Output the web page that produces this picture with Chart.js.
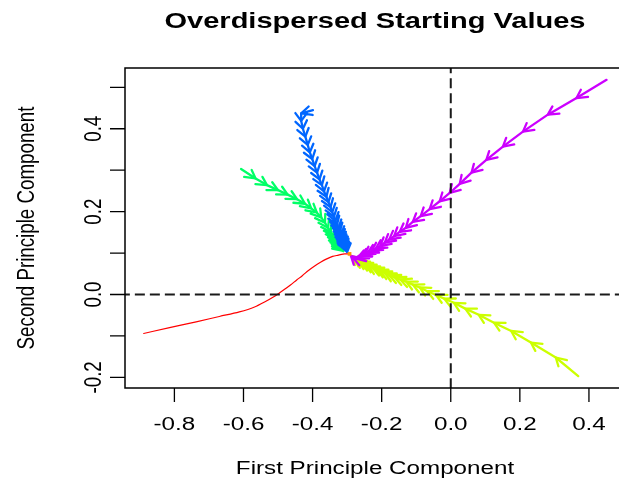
<!DOCTYPE html>
<html>
<head>
<meta charset="utf-8">
<title>Overdispersed Starting Values</title>
<script src="https://cdn.jsdelivr.net/npm/chart.js@4"></script>
<style>
  body { margin: 0; background: #fff; }
  canvas { display: block; }
</style>
</head>
<body>
<canvas id="chart" width="619" height="482"></canvas>
<script>
'use strict'

// trajectories, [first PC, second PC], start -> end
const redPath = [
  [-0.889, -0.094], [-0.814, -0.080], [-0.737, -0.066], [-0.670, -0.053],
  [-0.612, -0.042], [-0.568, -0.030], [-0.539, -0.018], [-0.516, -0.007],
  [-0.499, 0.002], [-0.481, 0.0125], [-0.464, 0.023], [-0.446, 0.035],
  [-0.429, 0.046], [-0.412, 0.058], [-0.394, 0.069], [-0.377, 0.078],
  [-0.359, 0.086], [-0.342, 0.092], [-0.325, 0.095], [-0.307, 0.098],
  [-0.293, 0.098]
]
const yellowPath = [
  [0.369, -0.197], [0.304, -0.152], [0.232, -0.116], [0.175, -0.088],
  [0.125, -0.068], [0.081, -0.049], [0.042, -0.034], [0.009, -0.020],
  [-0.019, -0.010], [-0.043, -0.001], [-0.068, 0.008], [-0.090, 0.017],
  [-0.110, 0.024], [-0.129, 0.031], [-0.146, 0.036], [-0.162, 0.041],
  [-0.177, 0.046], [-0.190, 0.051], [-0.203, 0.056], [-0.214, 0.060],
  [-0.226, 0.064], [-0.238, 0.069], [-0.248, 0.073], [-0.258, 0.077],
  [-0.267, 0.081], [-0.274, 0.085], [-0.280, 0.088], [-0.286, 0.092]
]
const greenPath = [
  [-0.607, 0.303], [-0.565, 0.280], [-0.532, 0.264], [-0.500, 0.252],
  [-0.472, 0.241], [-0.445, 0.230], [-0.422, 0.219], [-0.404, 0.208],
  [-0.388, 0.198], [-0.375, 0.186], [-0.364, 0.173], [-0.355, 0.161],
  [-0.347, 0.151], [-0.340, 0.141], [-0.334, 0.133], [-0.329, 0.125],
  [-0.324, 0.119], [-0.320, 0.114], [-0.317, 0.110], [-0.314, 0.107],
  [-0.311, 0.105]
]
const bluePath = [
  [-0.399, 0.445], [-0.433, 0.437], [-0.433, 0.419], [-0.428, 0.400],
  [-0.421, 0.381], [-0.414, 0.361], [-0.408, 0.343], [-0.401, 0.327],
  [-0.394, 0.310], [-0.387, 0.294], [-0.380, 0.278], [-0.373, 0.264],
  [-0.367, 0.249], [-0.360, 0.236], [-0.354, 0.223], [-0.348, 0.211],
  [-0.343, 0.199], [-0.338, 0.188], [-0.334, 0.178], [-0.329, 0.169],
  [-0.325, 0.160], [-0.321, 0.152], [-0.318, 0.144], [-0.315, 0.137],
  [-0.312, 0.130], [-0.309, 0.124], [-0.307, 0.119], [-0.305, 0.114],
  [-0.303, 0.110], [-0.301, 0.106], [-0.300, 0.103]
]
const magentaPath = [
  [0.451, 0.518], [0.364, 0.474], [0.281, 0.434], [0.209, 0.393],
  [0.151, 0.357], [0.103, 0.325], [0.060, 0.294], [0.026, 0.267],
  [-0.003, 0.245], [-0.032, 0.225], [-0.061, 0.206], [-0.087, 0.189],
  [-0.110, 0.175], [-0.130, 0.161], [-0.148, 0.151], [-0.164, 0.141],
  [-0.178, 0.133], [-0.191, 0.125], [-0.204, 0.117], [-0.217, 0.111],
  [-0.229, 0.105], [-0.241, 0.100], [-0.251, 0.095], [-0.261, 0.091],
  [-0.270, 0.088], [-0.277, 0.087], [-0.283, 0.089], [-0.289, 0.093]
]
const centrePoint = [[-0.293, 0.098]]

const xTicks = [-0.8, -0.6, -0.4, -0.2, 0.0, 0.2, 0.4]
const xTickLabels = ['-0.8', '-0.6', '-0.4', '-0.2', '0.0', '0.2', '0.4']
const yTicks = [-0.2, -0.1, 0.0, 0.1, 0.2, 0.3, 0.4, 0.5]
const yTickLabels = ['-0.2', '', '0.0', '', '0.2', '', '0.4', '']

const titleText = 'Overdispersed Starting Values'
const xTitle = 'First Principle Component'
const yTitle = 'Second Principle Component'

// the original picture is stretched sideways, so text and arrow heads are too
const FONT = '"Liberation Sans", Arial, Helvetica, sans-serif'
const STRETCH = 1.29

const toPoints = path => path.map(p => ({ x: p[0], y: p[1] }))

function trail(path, colour, width, arrows, smooth) {
  return {
    data: toPoints(path),
    showLine: true,
    borderColor: colour,
    borderWidth: width,
    borderCapStyle: 'round',
    borderJoinStyle: 'round',
    cubicInterpolationMode: smooth ? 'monotone' : 'default',
    pointRadius: 0,
    pointHoverRadius: 0,
    arrowHeads: arrows
  }
}

function refLine(points) {
  return {
    data: toPoints(points),
    showLine: true,
    borderColor: '#1a1a1a',
    borderWidth: 2,
    borderDash: [10, 5],
    pointRadius: 0,
    pointHoverRadius: 0
  }
}

// first dataset ends up on top
const datasets = [
  refLine([[-2, 0], [2, 0]]),
  refLine([[0, -2], [0, 2]]),
  {
    data: toPoints(centrePoint),
    pointStyle: 'rect',
    pointRadius: 2.6,
    pointHoverRadius: 2.6,
    backgroundColor: '#FF9500',
    borderWidth: 0
  },
  trail(magentaPath, '#CC00FF', 2.3, true, false),
  trail(bluePath, '#0066FF', 2.3, true, false),
  trail(greenPath, '#00FF66', 2.3, true, false),
  trail(yellowPath, '#CCFF00', 2.3, true, false),
  trail(redPath, '#FF0000', 1.2, false, true)
]

// open arrow heads at the end of every step, like R's arrows()
const arrowHeads = {
  id: 'arrowHeads',
  afterDatasetDraw(chart, args) {
    const ds = chart.data.datasets[args.index]
    if (!ds.arrowHeads) return
    const pts = args.meta.data
    const ctx = chart.ctx
    const len = 9
    const spread = Math.PI / 6
    ctx.save()
    ctx.strokeStyle = ds.borderColor
    ctx.lineWidth = ds.borderWidth
    ctx.lineCap = 'round'
    ctx.lineJoin = 'round'
    ctx.beginPath()
    for (let i = 1; i < pts.length; i++) {
      const a = pts[i - 1]
      const b = pts[i]
      const ang = Math.atan2(b.y - a.y, (b.x - a.x) / STRETCH)
      ctx.moveTo(b.x - len * Math.cos(ang - spread) * STRETCH, b.y - len * Math.sin(ang - spread))
      ctx.lineTo(b.x, b.y)
      ctx.lineTo(b.x - len * Math.cos(ang + spread) * STRETCH, b.y - len * Math.sin(ang + spread))
    }
    ctx.stroke()
    ctx.restore()
  }
}

function stretchedText(ctx, text, x, y, font, rotate) {
  ctx.save()
  ctx.translate(x, y)
  ctx.scale(STRETCH, 1)
  if (rotate) ctx.rotate(-Math.PI / 2)
  ctx.font = font
  ctx.textAlign = 'center'
  ctx.textBaseline = 'alphabetic'
  ctx.fillStyle = '#000'
  ctx.fillText(text, 0, 0)
  ctx.restore()
}

// base-graphics style box, ticks and labels
const rFrame = {
  id: 'rFrame',
  afterDraw(chart) {
    const { ctx, chartArea: a, scales: { x, y } } = chart
    ctx.save()
    ctx.strokeStyle = '#000'
    ctx.lineWidth = 1.5
    ctx.beginPath()
    ctx.moveTo(a.right + 10, a.top)
    ctx.lineTo(a.left, a.top)
    ctx.lineTo(a.left, a.bottom)
    ctx.lineTo(a.right + 10, a.bottom)
    ctx.stroke()

    ctx.lineWidth = 1.3
    ctx.beginPath()
    xTicks.forEach(v => {
      const px = x.getPixelForValue(v)
      ctx.moveTo(px, a.bottom)
      ctx.lineTo(px, a.bottom + 14)
    })
    yTicks.forEach(v => {
      const py = y.getPixelForValue(v)
      ctx.moveTo(a.left, py)
      ctx.lineTo(a.left - 15, py)
    })
    ctx.stroke()
    ctx.restore()

    const small = '18.75px ' + FONT
    xTicks.forEach((v, i) => {
      stretchedText(ctx, xTickLabels[i], x.getPixelForValue(v), a.bottom + 42, small)
    })
    yTicks.forEach((v, i) => {
      if (yTickLabels[i]) stretchedText(ctx, yTickLabels[i], a.left - 24, y.getPixelForValue(v), small, true)
    })
    stretchedText(ctx, titleText, 375, 28, 'bold 22.5px ' + FONT)
    stretchedText(ctx, xTitle, 375, 474, small)
    stretchedText(ctx, yTitle, 33.5, (a.top + a.bottom) / 2, small, true)
  }
}

const ctx = document.getElementById('chart')

const chart = new Chart(ctx, {
  type: 'scatter',
  data: { datasets: datasets },
  options: {
    responsive: false,
    animation: false,
    devicePixelRatio: 1,
    events: [],
    layout: { autoPadding: false, padding: { left: 125, top: 68, right: 0, bottom: 94 } },
    plugins: {
      legend: { display: false },
      title: { display: false },
      tooltip: { enabled: false }
    },
    scales: {
      x: { type: 'linear', min: -0.943, max: 0.487, display: false },
      y: { type: 'linear', min: -0.2256, max: 0.5466, display: false }
    }
  },
  plugins: [arrowHeads, rFrame]
})
</script>
</body>
</html>
